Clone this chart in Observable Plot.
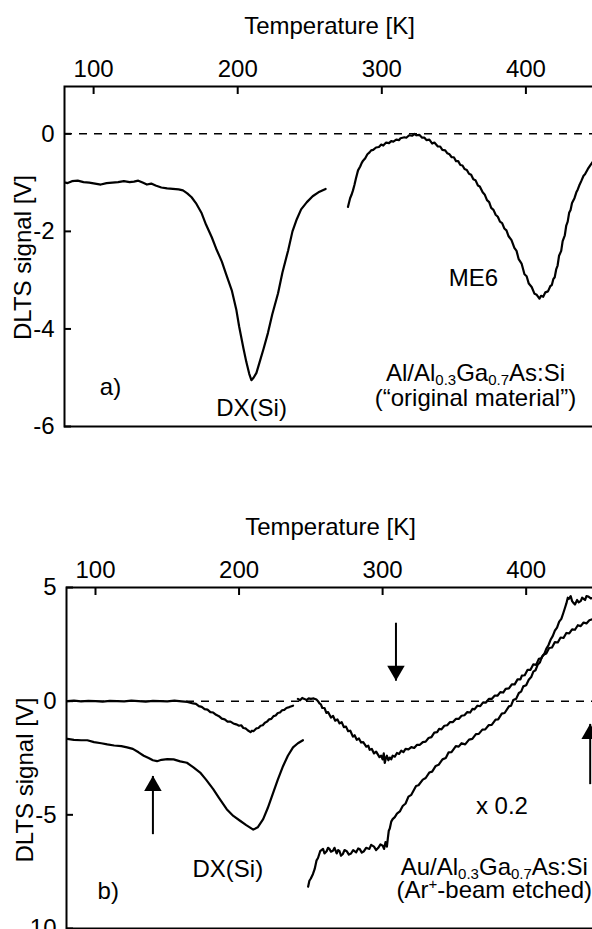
<!DOCTYPE html>
<html><head><meta charset="utf-8">
<script src="https://cdn.jsdelivr.net/npm/d3@7"></script>
<script src="https://cdn.jsdelivr.net/npm/@observablehq/plot@0.6"></script>
<style>
html,body{margin:0;padding:0;background:#fff;overflow:hidden;}
#chart{width:592px;}
#chart svg{display:block;}
</style></head><body><div id="chart"></div><script>
// ---------------- data ----------------
const xTicks = [100, 200, 300, 400];
const yTicksA = [0, -2, -4, -6];
const yTicksB = [5, 0, -5, -10];
const tempDomain = [79.8, 447.6];
const yDomainA = [-6, 0.97];
const yDomainB = [-10, 5];

// panel a) Al/Al0.3Ga0.7As:Si original material
const curveA_DX = [[80.5,-1.0],[82,-1.01],[85,-0.97],[89,-0.96],[93,-0.99],[97,-1.0],[101,-1.02],[105,-1.04],[109,-1.01],[113,-1.0],[117,-0.99],[121,-0.97],[125,-0.99],[128,-0.98],[131,-0.96],[134,-1.0],[137,-1.04],[140,-1.02],[143,-1.06],[147,-1.1],[151,-1.12],[155,-1.13],[159,-1.14],[162,-1.16],[165,-1.22],[168,-1.3],[171,-1.42],[175,-1.63],[178,-1.86],[182,-2.12],[185,-2.35],[189,-2.62],[192,-2.88],[196,-3.22],[199,-3.6],[201,-3.95],[204,-4.4],[206,-4.68],[208,-4.92],[209.5,-5.05],[211,-5.0],[213,-4.9],[215,-4.7],[218,-4.4],[221,-4.08],[224,-3.7],[228,-3.27],[231,-2.85],[235,-2.39],[238,-2.0],[241,-1.75],[244,-1.55],[248,-1.4],[252,-1.28],[256,-1.2],[261,-1.13]];
const curveA_ME6 = [[276.5,-1.5],[278,-1.32],[279,-1.25],[280,-1.16],[281,-1.05],[282,-0.92],[283.5,-0.75],[285,-0.67],[286,-0.6],[287,-0.55],[288.5,-0.5],[290,-0.42],[291.5,-0.38],[292.6,-0.34],[294,-0.33],[296,-0.28],[298,-0.27],[299.6,-0.22],[301,-0.24],[303,-0.18],[305,-0.19],[306.5,-0.15],[308,-0.16],[310,-0.12],[312,-0.13],[313,-0.09],[315.7,-0.07],[317,-0.08],[319,-0.03],[321,-0.04],[322.7,0.0],[324,-0.03],[326,-0.02],[328,-0.08],[329.6,-0.08],[331,-0.13],[333,-0.12],[335,-0.2],[336.5,-0.18],[338.9,-0.26],[340.5,-0.26],[342,-0.33],[344,-0.34],[345.5,-0.4],[347,-0.42],[348.5,-0.48],[350,-0.48],[351.5,-0.56],[353,-0.56],[354.5,-0.64],[356,-0.65],[357.4,-0.72],[359,-0.74],[360.5,-0.82],[362,-0.84],[363.5,-0.93],[365,-0.95],[366.7,-1.06],[368,-1.08],[370,-1.2],[371.5,-1.25],[373,-1.36],[374.5,-1.4],[375.9,-1.52],[377.5,-1.56],[379,-1.66],[380.5,-1.7],[382,-1.8],[383.5,-1.83],[385,-1.94],[386.5,-1.98],[388,-2.1],[390,-2.18],[392,-2.34],[393.5,-2.4],[395,-2.57],[397,-2.66],[399,-2.88],[400.5,-2.92],[402,-3.07],[404,-3.14],[406,-3.28],[407.5,-3.3],[409.4,-3.38],[410.5,-3.32],[412,-3.34],[413.5,-3.25],[415.3,-3.23],[417,-3.12],[418,-3.1],[419,-2.98],[420,-2.94],[421,-2.78],[422,-2.7],[423,-2.5],[424.5,-2.4],[425.5,-2.2],[427,-2.08],[428,-1.88],[429,-1.8],[430,-1.62],[431,-1.56],[432,-1.42],[433.7,-1.32],[435,-1.2],[436,-1.14],[437,-1.06],[438.4,-0.97],[440,-0.86],[441,-0.83],[443,-0.72],[445,-0.63],[447,-0.55]];

// panel b) Au/Al0.3Ga0.7As:Si Ar+-beam etched
const curveB1_left = [[80.4,0.0],[85,0.02],[90,-0.01],[95,0.01],[100,0.0],[105,-0.02],[110,0.01],[115,0.0],[120,-0.01],[125,0.02],[130,0.0],[135,-0.02],[140,0.01],[145,0.0],[150,-0.01],[155,0.02],[160,-0.01],[164,-0.03],[168,-0.1],[170,-0.12],[172,-0.22],[174,-0.25],[176,-0.35],[178,-0.37],[180,-0.48],[182,-0.5],[184,-0.6],[186,-0.66],[188,-0.77],[190,-0.8],[192,-0.9],[194,-0.9],[196,-0.98],[198,-1.02],[200,-1.08],[201.5,-1.06],[203,-1.18],[204.5,-1.2],[206,-1.28],[208,-1.36],[209,-1.3],[210,-1.32],[212,-1.2],[213.5,-1.18],[215,-1.08],[216.5,-1.06],[218,-0.95],[219.5,-0.9],[221,-0.8],[222.5,-0.78],[224,-0.66],[225.5,-0.63],[227,-0.52],[228.5,-0.5],[230,-0.4],[231.5,-0.38],[233,-0.3],[235,-0.26],[237.6,-0.2]];
const curveB1_right = [[241,0.1],[242.5,0.04],[244,0.14],[245.5,0.1],[247,0.05],[248.5,0.12],[250,0.1],[252,0.12],[253.9,0.07],[255,0.0],[256,-0.1],[257,-0.14],[258,-0.3],[259.5,-0.3],[260.8,-0.52],[262,-0.48],[264,-0.72],[265.5,-0.65],[267,-0.86],[268.5,-0.8],[270,-0.98],[271.5,-0.92],[273,-1.14],[274.5,-1.12],[276,-1.32],[277.5,-1.3],[279.3,-1.56],[280.5,-1.5],[282,-1.7],[283.5,-1.64],[285,-1.82],[286.5,-1.8],[288.6,-2.0],[290,-1.96],[291,-2.14],[292.5,-2.1],[294,-2.3],[295.5,-2.22],[297.8,-2.46],[299,-2.4],[300,-2.56],[300.8,-2.3],[301.5,-2.72],[302.3,-2.5],[303,-2.4],[304,-2.6],[305,-2.48],[306,-2.56],[307,-2.4],[308.5,-2.44],[310,-2.28],[311.5,-2.32],[313,-2.18],[314.5,-2.24],[316,-2.1],[318,-2.12],[320,-2.02],[322,-2.06],[324,-1.92],[326,-1.92],[328,-1.8],[330,-1.78],[332,-1.62],[334,-1.58],[336,-1.38],[338,-1.36],[339.4,-1.22],[341,-1.24],[343,-1.08],[345,-1.06],[347,-0.92],[349,-0.92],[351,-0.78],[353,-0.78],[355,-0.64],[357,-0.62],[359,-0.48],[361,-0.5],[362.6,-0.34],[364,-0.36],[366,-0.2],[368,-0.22],[370,-0.05],[372,-0.06],[374,0.1],[376,0.1],[378,0.24],[380,0.24],[382,0.4],[384,0.38],[385.7,0.54],[388,0.56],[390,0.74],[392,0.74],[394,0.96],[396,0.96],[397,1.12],[399,1.14],[401,1.38],[403,1.38],[405,1.62],[407,1.6],[408.8,1.86],[410.5,1.88],[412,2.04],[414,2.1],[416,2.34],[418,2.36],[420,2.6],[422,2.58],[424,2.8],[426,2.78],[428,3.0],[430,2.98],[432,3.16],[434,3.14],[436,3.34],[438,3.3],[440,3.46],[442,3.42],[444,3.56],[447,3.62]];
const curveB2_left = [[80.4,-1.66],[85,-1.7],[90,-1.72],[94.3,-1.72],[99,-1.8],[104,-1.85],[108.2,-1.9],[113,-1.95],[118,-1.98],[122,-2.03],[126,-2.1],[130,-2.25],[133.6,-2.4],[137,-2.5],[140,-2.6],[142.9,-2.64],[146,-2.58],[150,-2.55],[154.4,-2.56],[159,-2.65],[163.7,-2.71],[168,-2.9],[172.9,-3.14],[177,-3.45],[182,-3.87],[186,-4.25],[191.4,-4.75],[196,-5.05],[200.7,-5.26],[205,-5.45],[209.9,-5.65],[213,-5.55],[216.8,-5.19],[220,-4.7],[223.8,-4.02],[227,-3.45],[230.7,-2.85],[234,-2.4],[237.6,-2.03],[241,-1.85],[244.5,-1.72]];
const curveB2_right = [[248.1,-8.16],[249,-7.9],[250,-7.8],[251.5,-7.6],[252.7,-7.38],[254,-7.0],[255,-6.9],[256.5,-6.6],[258.5,-6.5],[259.5,-6.7],[261,-6.6],[262,-6.45],[263,-6.5],[264,-6.62],[265.4,-6.58],[266.5,-6.45],[268,-6.7],[269,-6.55],[270,-6.6],[271,-6.8],[272.3,-6.72],[273.5,-6.55],[275,-6.6],[276.5,-6.75],[278,-6.7],[279.5,-6.55],[281.6,-6.65],[283,-6.48],[284,-6.5],[285.5,-6.66],[287,-6.6],[288.5,-6.45],[290.8,-6.5],[292,-6.32],[294,-6.4],[295.5,-6.55],[297,-6.45],[298.5,-6.3],[300.1,-6.36],[301,-6.5],[302,-6.2],[303,-6.4],[303.6,-6.06],[304.3,-5.7],[305,-5.6],[306,-5.3],[307,-5.19],[308.5,-5.1],[310,-4.95],[312,-4.85],[314,-4.61],[316,-4.5],[318,-4.2],[320,-4.12],[323.3,-3.73],[325,-3.7],[328,-3.45],[330,-3.38],[332.5,-3.14],[334.5,-3.1],[337,-2.85],[339,-2.8],[341.7,-2.56],[344,-2.5],[346,-2.25],[348,-2.24],[351,-1.98],[353,-2.0],[355,-1.85],[357.5,-1.9],[360.2,-1.69],[362.5,-1.66],[365,-1.45],[367,-1.44],[369.5,-1.25],[371.5,-1.24],[374,-1.05],[376,-1.04],[378.7,-0.81],[380.5,-0.8],[383,-0.55],[385,-0.52],[388,-0.23],[389.5,-0.2],[391,0.05],[393,0.1],[394.9,0.36],[396.5,0.42],[398,0.65],[400,0.7],[401.8,0.94],[403.5,1.06],[405,1.3],[406.5,1.36],[408,1.6],[409.5,1.7],[411,1.95],[412.5,2.06],[414,2.3],[415.5,2.46],[417,2.7],[418.5,2.86],[420,3.1],[421.5,3.24],[423,3.5],[424.5,3.62],[426,3.9],[427,4.1],[428,4.3],[429,4.55],[429.7,4.5],[431,4.62],[432,4.4],[433,4.32],[434,4.25],[435.5,4.45],[436.6,4.35],[438,4.4],[439,4.55],[440,4.5],[441,4.45],[442,4.62],[443.4,4.6],[445,4.52],[447,4.55]];

// annotations (data coordinates)
const labelsA = [
  {x: 111.7, y: -5.2, text: "a)"},
  {x: 209.6, y: -5.63, text: "DX(Si)"},
  {x: 363.6, y: -2.97, text: "ME6"},
  {x: 365, y: -4.91, text: "Al/Al_{0.3}Ga_{0.7}As:Si"},
  {x: 365, y: -5.43, text: "(\u201Coriginal material\u201D)"}
];
const labelsB = [
  {x: 108.9, y: -8.37, text: "b)"},
  {x: 192.2, y: -7.4, text: "DX(Si)"},
  {x: 383.1, y: -4.62, text: "x 0.2"},
  {x: 377.8, y: -7.33, text: "Au/Al_{0.3}Ga_{0.7}As:Si"},
  {x: 377.8, y: -8.3, text: "(Ar^{+}-beam etched)"}
];
const arrowsUpB = [
  {x: 140, tail: -5.85, tip: -3.29},
  {x: 444.6, tail: -3.65, tip: -1.0}
];
const arrowsDownB = [
  {x: 309.3, tail: 3.45, tip: 0.9}
];

// ---------------- drawing ----------------
const FONT = "'Liberation Sans', Arial, Helvetica, sans-serif";
const FS = 24;

function richify(svg) {
  d3.select(svg).selectAll("text").each(function () {
    const t = this.textContent;
    if (!/[_^]\{/.test(t)) return;
    const el = d3.select(this);
    el.text(null);
    const parts = t.split(/([_^]\{[^}]*\})/).filter(s => s);
    let shift = 0;
    for (const p of parts) {
      const m = p.match(/^([_^])\{(.*)\}$/);
      if (m) {
        const s = m[1] === "_" ? 4 : -9;
        el.append("tspan").attr("dy", s - shift).attr("font-size", 15).text(m[2]);
        shift = s;
      } else {
        el.append("tspan").attr("dy", -shift).text(p);
        shift = 0;
      }
    }
  });
}

function panel({marginLeft, height, yDomain, yTicks, curves, labels, up = [], down = [], yLabelDy}) {
  const marks = [
    Plot.ruleY([0], {stroke: "black", strokeWidth: 1.5, strokeDasharray: "8,7"}),
    ...curves.map(c => Plot.line(c, {x: d => d[0], y: d => d[1], stroke: "black", strokeWidth: 2.2})),
    Plot.link(up, {x1: "x", x2: "x", y1: "tail", y2: "tip", stroke: "black", strokeWidth: 2}),
    Plot.link(down, {x1: "x", x2: "x", y1: "tail", y2: "tip", stroke: "black", strokeWidth: 2}),
    Plot.dot(up, {x: "x", y: "tip", symbol: "triangle", r: 6.5, fill: "black", stroke: null, dy: 10}),
    Plot.dot(down, {x: "x", y: "tip", symbol: "triangle", r: 6.5, fill: "black", stroke: null, rotate: 180, dy: -10}),
    Plot.frame({stroke: "black", strokeWidth: 2}),
    Plot.axisX({anchor: "top", ticks: xTicks, tickSize: -7, tickPadding: 17, strokeWidth: 2, tickFormat: d => String(d), label: null, fontSize: FS}),
    Plot.axisY({anchor: "left", ticks: yTicks, tickSize: -7, tickPadding: 17, strokeWidth: 2, tickFormat: d => String(d), label: null, fontSize: FS}),
    Plot.text(["Temperature [K]"], {text: d => d, frameAnchor: "top", textAnchor: "middle", lineAnchor: "middle", dy: -60, fontSize: FS, fill: "black"}),
    Plot.text(["DLTS signal [V]"], {text: d => d, frameAnchor: "left", textAnchor: "middle", lineAnchor: "middle", dx: -41, dy: yLabelDy, rotate: -90, fontSize: FS, fill: "black"}),
    Plot.text(labels, {x: "x", y: "y", text: "text", textAnchor: "middle", lineAnchor: "middle", fontSize: FS, fill: "black"})
  ];
  const svg = Plot.plot({
    width: 592, height,
    marginLeft, marginRight: -2, marginTop: 86, marginBottom: 75,
    x: {domain: tempDomain},
    y: {domain: yDomain},
    style: {fontFamily: FONT, fontSize: FS + "px", color: "black", background: "white"},
    marks
  });
  richify(svg);
  return svg;
}

const chart = document.getElementById("chart");
chart.append(panel({marginLeft: 64, height: 501, yDomain: yDomainA, yTicks: yTicksA,
  curves: [curveA_DX, curveA_ME6], labels: labelsA, yLabelDy: 1}));
chart.append(panel({marginLeft: 66, height: 502, yDomain: yDomainB, yTicks: yTicksB,
  curves: [curveB1_left, curveB1_right, curveB2_left, curveB2_right], labels: labelsB,
  up: arrowsUpB, down: arrowsDownB, yLabelDy: 22}));
</script></body></html>
